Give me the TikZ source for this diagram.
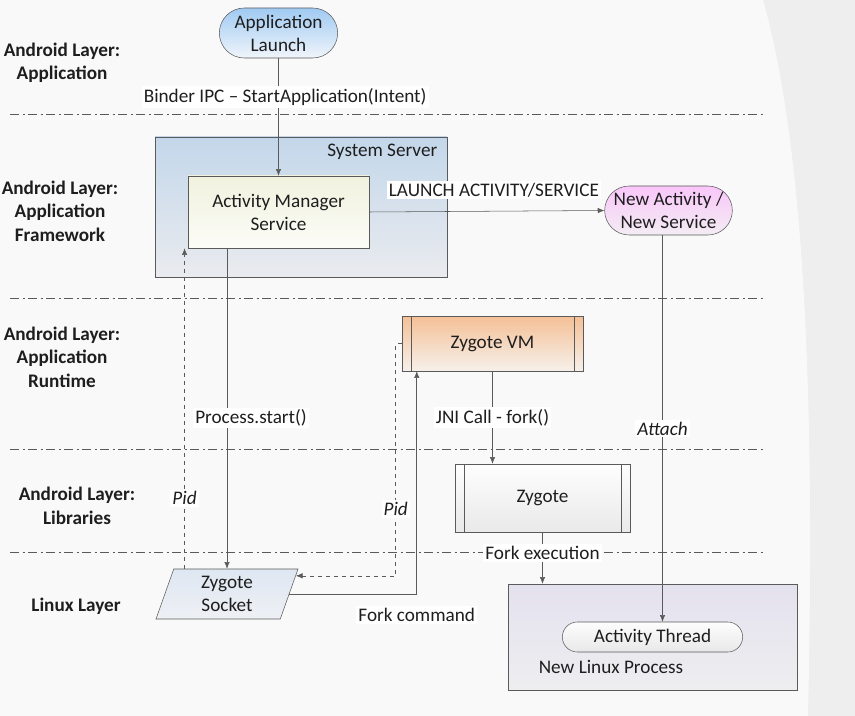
\documentclass[tikz,border=0pt]{standalone}
\usepackage{fontspec}
\setmainfont{Carlito}
\usetikzlibrary{arrows.meta, calc, positioning, shapes.geometric, shapes.misc}

\definecolor{linec}{RGB}{90,90,90}
\definecolor{textc}{RGB}{30,30,30}
\definecolor{bgleft}{RGB}{249,249,249}
\definecolor{bgright}{RGB}{238,238,238}

\tikzset{
    layer/.style={font=\bfseries\fontsize{14.4}{17.6}\selectfont, align=center, text=textc},
    sep/.style={draw=linec, thin, dash pattern=on 7pt off 2.5pt on 1.5pt off 2.5pt},
    flow/.style={draw=linec, -{Latex[length=5pt,width=4pt]}},
    back/.style={flow, dashed},
    lbl/.style={fill=white, inner sep=1.5pt, text=textc},
    itl/.style={lbl, font=\itshape\fontsize{14.4}{17.2}\selectfont},
    stadium/.style={rounded rectangle, draw=linec, align=center, text=textc},
    box/.style={rectangle, draw=linec, align=center, text=textc},
    proc/.style={box, path picture={
        \draw[linec] ([xshift=6.75pt]path picture bounding box.north west) -- ([xshift=6.75pt]path picture bounding box.south west)
        ([xshift=-6.75pt]path picture bounding box.north east) -- ([xshift=-6.75pt]path picture bounding box.south east);}}
}

\begin{document}
\begin{tikzpicture}[x=0.75pt, y=-0.75pt, font=\fontsize{14.4}{17.2}\selectfont]
    \useasboundingbox (0,0) rectangle (855,716);
    \fill[bgright] (0,0) rectangle (855,716);
    \fill[bgleft] (0,0) -- (763,0) .. controls (805,150) and (815,400) .. (808,716) -- (0,716) -- cycle;

    % layer separators
    \foreach \y in {114,298,449,552}
        \draw[sep] (10,\y) -- (763,\y);

    \node[layer] (l1) at (62,63) {Android Layer:\\Application};
    \node[layer] (l2) at (60,211) {Android Layer:\\Application\\Framework};
    \node[layer] (l3) at (62,357) {Android Layer:\\Application\\Runtime};
    \node[layer] (l4) at (77,506) {Android Layer:\\Libraries};
    \node[layer] (l5) at (76,606) {Linux Layer};

    \node[stadium, minimum width=90.75pt, minimum height=37.5pt, inner sep=1pt,
        top color={rgb,255:red,160;green,202;blue,242}, bottom color={rgb,255:red,240;green,245;blue,251}]
        (al) at (278.5,33) {Application\\Launch};
    \node[box, minimum width=219pt, minimum height=105pt,
        top color={rgb,255:red,195;green,215;blue,234}, bottom color={rgb,255:red,234;green,235;blue,239}]
        (ss) at (301,207) {};
    \node[below left=2pt and 4pt of ss.north east, text=textc] (ssl) {System Server};
    \node[box, minimum width=135.75pt, minimum height=54pt,
        top color={rgb,255:red,240;green,242;blue,222}, bottom color={rgb,255:red,252;green,252;blue,248}]
        (ams) at (278.5,212) {Activity Manager\\Service};
    \node[stadium, minimum width=96.75pt, minimum height=36.75pt, inner sep=0.5pt,
        top color={rgb,255:red,249;green,198;blue,249}, bottom color={rgb,255:red,243;green,237;blue,243}]
        (na) at (668.5,210.5) {New Activity /\\New Service};
    \node[proc, minimum width=135.75pt, minimum height=41.25pt,
        top color={rgb,255:red,244;green,192;blue,150}, bottom color={rgb,255:red,246;green,240;blue,234}]
        (zvm) at (492.5,343.5) {Zygote VM};
    \node[proc, minimum width=131.25pt, minimum height=51pt,
        top color={rgb,255:red,254;green,254;blue,254}, bottom color={rgb,255:red,233;green,233;blue,233}]
        (zyg) at (542.5,498) {Zygote};
    \node[box, minimum width=216.75pt, minimum height=79.5pt,
        top color={rgb,255:red,228;green,225;blue,238}, bottom color={rgb,255:red,238;green,238;blue,240}]
        (nlp) at (652.5,637) {};
    \node[text=textc] (nlpl) at (611,667) {New Linux Process};
    \node[stadium, minimum width=137.25pt, minimum height=22.5pt, inner sep=1pt,
        top color={rgb,255:red,253;green,253;blue,253}, bottom color={rgb,255:red,232;green,232;blue,232}]
        (at) at (652.5,637) {Activity Thread};
    \node[trapezium, trapezium left angle=65, trapezium right angle=115, trapezium stretches body,
        draw=linec, align=center, text=textc, inner sep=1pt, minimum width=106.5pt, minimum height=37.5pt,
        top color={rgb,255:red,222;green,231;blue,242}, bottom color={rgb,255:red,238;green,240;blue,244}]
        (zs) at (227,594) {Zygote\\Socket};

    \coordinate (pidl) at ($(zs.top left corner)+(11,0)$);
    \coordinate (pidr) at ($(zs.top right corner)!0.14!(zs.bottom right corner)$);
    \coordinate (fork) at ($(zvm.south west)+(15,0)$);

    \draw[flow] (al.south) -- node[lbl, pos=0.33, xshift=5pt] {Binder IPC -- StartApplication(Intent)} (ams.north);
    \draw[flow] (ams.east) -- node[lbl, pos=0.53, yshift=15.75pt] {LAUNCH ACTIVITY/SERVICE} (na.west);
    \draw[flow] (zs.north |- ams.south) -- node[lbl, pos=0.53, xshift=18pt] {Process.start()} (zs.north);
    \draw[back] (pidl) -- node[itl, pos=0.22] {Pid} (pidl |- ams.south);
    \draw[back] (zvm.west) -- ++(-6,0) |- node[itl, pos=0.356] {Pid} (pidr);
    \draw[flow] (zs.east) -| node[lbl, pos=0.5, yshift=-15.75pt] {Fork command} (fork);
    \draw[flow] (zvm.south) -- node[lbl, pos=0.5] {JNI Call - fork()} (zvm.south |- zyg.north);
    \draw[flow] (zyg.south) -- node[lbl, pos=0.4] {Fork execution} (zyg.south |- nlp.north);
    \draw[flow] ([xshift=-4.5pt]na.south) -- node[itl, pos=0.5] {Attach} ([xshift=-4.5pt]na.south |- at.north);
\end{tikzpicture}
\end{document}
